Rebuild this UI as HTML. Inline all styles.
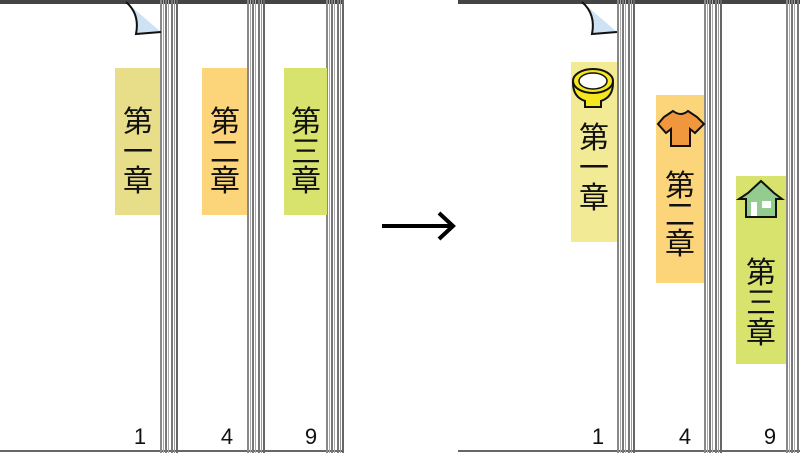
<!DOCTYPE html>
<html><head><meta charset="utf-8"><style>
html,body{margin:0;padding:0;background:#fff;width:800px;height:453px;overflow:hidden}
svg{display:block}
text{font-family:"Liberation Sans","Noto Sans CJK JP",sans-serif}
</style></head><body>
<svg width="800" height="453" viewBox="0 0 800 453" xmlns="http://www.w3.org/2000/svg">
<defs>
<g id="stripe">
 <rect x="0" y="0" width="2" height="453" fill="#888"/>
 <rect x="3" y="0" width="1" height="453" fill="#aaa"/>
 <rect x="5" y="0" width="2" height="453" fill="#777"/>
 <rect x="8" y="0" width="1" height="453" fill="#aaa"/>
 <rect x="11" y="0" width="2" height="453" fill="#777"/>
 <rect x="14" y="0" width="1" height="453" fill="#999"/>
 <rect x="16" y="0" width="2" height="453" fill="#666"/>
</g>
<g id="curl">
 <path d="M0,0 Q14,12 10,32 L35,30 Z" fill="#cfe2f3"/>
 <path d="M0,0 Q14,12 10,32 L35,30" fill="none" stroke="#111" stroke-width="2"/>
</g>
</defs>
<!-- LEFT PANEL -->
<rect x="0" y="0" width="343" height="4" fill="#444"/>
<rect x="0" y="450" width="343" height="2" fill="#666"/>
<use href="#stripe" x="160"/>
<use href="#stripe" x="247"/>
<use href="#stripe" x="326"/>
<use href="#curl" x="126" y="2"/>
<rect x="115" y="68" width="45" height="147" fill="#e8de8a"/>
<rect x="202" y="68" width="45" height="147" fill="#fcd57a"/>
<rect x="284" y="68" width="43" height="147" fill="#d8e36e"/>
<g font-size="30" text-anchor="middle" fill="#111">
<text x="138" y="132">第</text><text x="138" y="162">一</text><text x="138" y="191">章</text>
<text x="225" y="132">第</text><text x="225" y="162">二</text><text x="225" y="191">章</text>
<text x="306" y="132">第</text><text x="306" y="162">三</text><text x="306" y="191">章</text>
</g>
<g font-size="22" text-anchor="middle" fill="#111">
<text x="140" y="444">1</text><text x="227" y="444">4</text><text x="311" y="444">9</text>
</g>
<!-- ARROW -->
<line x1="382" y1="226" x2="452" y2="226" stroke="#000" stroke-width="4"/>
<path d="M439,213 L453,226 L439,239" fill="none" stroke="#000" stroke-width="4"/>
<!-- RIGHT PANEL -->
<rect x="458" y="0" width="342" height="4" fill="#444"/>
<rect x="458" y="450" width="342" height="2" fill="#666"/>
<use href="#stripe" x="617"/>
<use href="#stripe" x="704"/>
<use href="#stripe" x="786"/>
<use href="#curl" x="582" y="2"/>
<rect x="571" y="62" width="46" height="180" fill="#f3ea95"/>
<rect x="656" y="95" width="48" height="188" fill="#fcd57a"/>
<rect x="736" y="176" width="50" height="188" fill="#d8e36e"/>
<!-- bowl -->
<path d="M573,83 Q573,97 585,101 L585,107 L601,107 L601,101 Q613,97 613,83 Z" fill="#f5e61e" stroke="#111" stroke-width="2"/>
<ellipse cx="593" cy="81" rx="20" ry="12" fill="#f5e61e" stroke="#111" stroke-width="2"/>
<ellipse cx="593" cy="81" rx="14" ry="8" fill="#fff" stroke="#111" stroke-width="1.5"/>
<!-- shirt -->
<path d="M673,111 L664,117 L658,124 L666,133 L671,129 L671,146 L690,146 L690,129 L695,133 L704,124 L697,117 L688,111 Q681,117 673,111 Z" fill="#f0963c" stroke="#111" stroke-width="2"/>
<!-- house -->
<path d="M748,193 L761,181 L774,193 L782,199 L776,199 L776,217 L746,217 L746,199 L739,199 Z" fill="#93cc8e" stroke="#111" stroke-width="2"/>
<rect x="751" y="202" width="6" height="14" fill="#fff"/>
<rect x="762" y="201" width="9" height="7" fill="#fff"/>
<g font-size="30" text-anchor="middle" fill="#111">
<text x="594" y="148">第</text><text x="594" y="178">一</text><text x="594" y="208">章</text>
<text x="680" y="196">第</text><text x="680" y="225">二</text><text x="680" y="254">章</text>
<text x="761" y="283">第</text><text x="761" y="313">三</text><text x="761" y="343">章</text>
</g>
<g font-size="22" text-anchor="middle" fill="#111">
<text x="598" y="444">1</text><text x="685" y="444">4</text><text x="770" y="444">9</text>
</g>
</svg>
</body></html>
